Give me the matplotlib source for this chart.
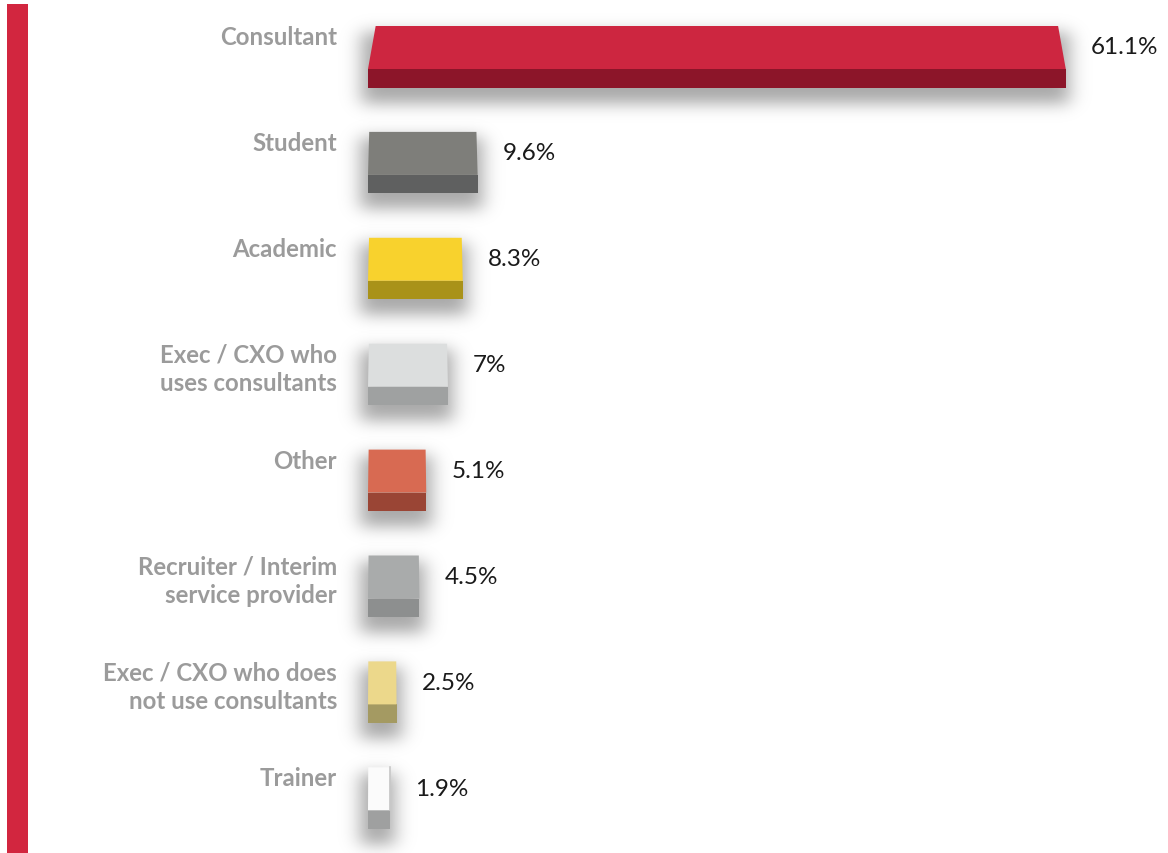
import math
import numpy as np
import matplotlib
matplotlib.use("Agg")
import matplotlib.pyplot as plt
from matplotlib.patches import Rectangle, Polygon

# Respondent roles and their share (%)
categories = [
    "Consultant",
    "Student",
    "Academic",
    "Exec / CXO who\nuses consultants",
    "Other",
    "Recruiter / Interim\nservice provider",
    "Exec / CXO who does\nnot use consultants",
    "Trainer",
]
values = [61.1, 9.6, 8.3, 7.0, 5.1, 4.5, 2.5, 1.9]
value_labels = ["61.1%", "9.6%", "8.3%", "7%", "5.1%", "4.5%", "2.5%", "1.9%"]

# Face colours of each block: lit top face and darker front face
top_colors = ["#CD2640", "#7E7E7A", "#F8D22D", "#DCDEDE",
              "#D86A52", "#A9ABAB", "#ECD88B", "#FBFBFB"]
front_colors = ["#8C1529", "#5F6060", "#A99219", "#9FA1A1",
                "#9A4535", "#8D8F8F", "#A49A62", "#9FA0A0"]

W, H, DPI = 1168, 854, 100
fig = plt.figure(figsize=(W / DPI, H / DPI), dpi=DPI)
ax = fig.add_axes([0, 0, 1, 1])

# scale: value axis in %, category axis in row units
px_per_pct = 11.42
x_origin_px = 368
row_px = 105.9
first_center_px = 57.75
xmin = -x_origin_px / px_per_pct
xmax = (W - x_origin_px) / px_per_pct
ymin = -first_center_px / row_px
ymax = (H - first_center_px) / row_px
ax.set_xlim(xmin, xmax)
ax.set_ylim(ymax, ymin)
ax.axis("off")

dx = 1.0 / px_per_pct   # one pixel in x data units
dy = 1.0 / row_px       # one pixel in y data units

bar_h = 61.5 * dy
front_h = 18.5 * dy

erf = np.vectorize(math.erf)


def soft_box(coord, a, b, s):
    return 0.5 * (erf((coord - a) / s) - erf((coord - b) / s))


for i, (v, tc, fc) in enumerate(zip(values, top_colors, front_colors)):
    top = i - bar_h / 2
    bottom = i + bar_h / 2
    split = bottom - front_h

    # soft drop shadow under the block
    gx0, gx1 = -55 * dx, v + 55 * dx
    gy0, gy1 = top - 30 * dy, bottom + 55 * dy
    nx, ny = 220, 120
    xs = np.linspace(gx0, gx1, nx)
    ys = np.linspace(gy0, gy1, ny)
    sx = soft_box(xs / dx, -8, v / dx + 5, 13)
    sy = soft_box(ys / dy, top / dy + 6, bottom / dy + 16, 11)
    alpha = 0.7 * np.outer(sy, sx)
    img = np.zeros((ny, nx, 4))
    img[..., :3] = 0.52
    img[..., 3] = alpha
    ax.imshow(img, extent=(gx0, gx1, gy1, gy0), origin="upper",
              interpolation="bilinear", zorder=1, aspect="auto")

    # front face
    ax.add_patch(Rectangle((0, split), v, bottom - split, facecolor=fc,
                           edgecolor="none", zorder=2))
    # top face, slightly narrower at the back edge
    inset = 0.011 * v
    ax.add_patch(Polygon([(inset, top), (v - inset, top), (v, split), (0, split)],
                         closed=True, facecolor=tc, edgecolor="none", zorder=2))
    if i == len(values) - 1:
        ax.plot([v, v], [top, split], color="#C8C8C8", lw=1.2, zorder=3)

    # category label
    ax.text(-31 * dx, top - 1 * dy, categories[i], ha="right", va="top",
            multialignment="right", fontsize=17.3, fontweight="bold",
            color="#9B9B9B", family="Lato", linespacing=1.3, zorder=4)
    # value label
    ax.text(v + 25 * dx, top + 21 * dy, value_labels[i], ha="left",
            va="center", fontsize=17.5, color="#1A1A1A", family="Lato",
            zorder=4)

# red accent strip along the left edge
ax.add_patch(Rectangle((7 / W, 0), 21 / W, (H - 5) / H, transform=ax.transAxes,
                       facecolor="#D2263F", edgecolor="none", zorder=5))

fig.savefig("out.png", dpi=DPI)
